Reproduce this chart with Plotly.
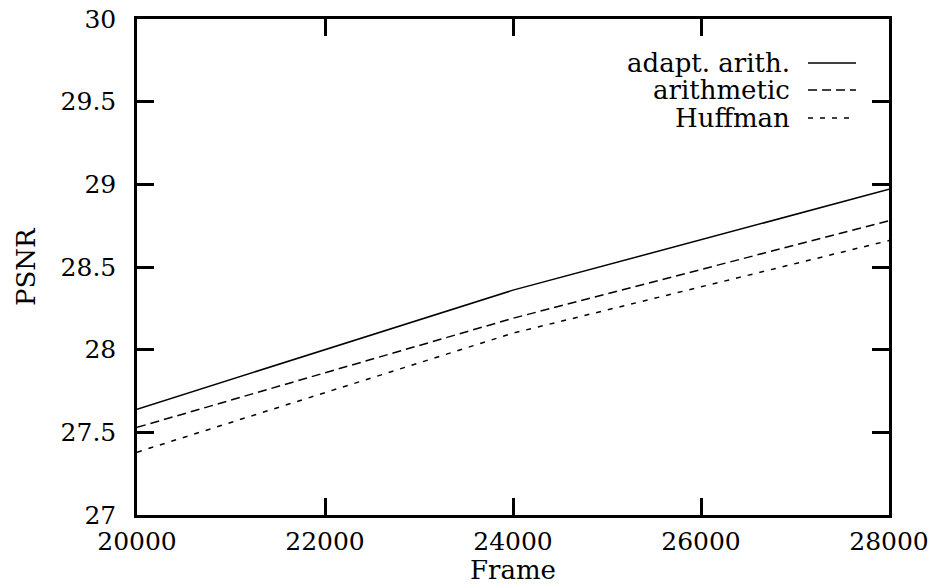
import plotly.graph_objects as go

# PSNR versus frame number for three entropy coders
frames = [20000, 24000, 28000]
adapt_arith = [27.64, 28.36, 28.97]
arithmetic = [27.53, 28.19, 28.78]
huffman = [27.38, 28.10, 28.66]

series_names = ["adapt. arith.", "arithmetic", "Huffman"]
series_values = [adapt_arith, arithmetic, huffman]
series_dash = ["solid", "9px,5px", "5px,7px"]

x_ticks = [20000, 22000, 24000, 26000, 28000]
y_ticks = [27, 27.5, 28, 28.5, 29, 29.5, 30]
y_tick_labels = ["27", "27.5", "28", "28.5", "29", "29.5", "30"]

FONT = "DejaVu Serif"
W, H = 933, 588
L, R, T, B = 137, 44, 19, 73

fig = go.Figure()
for name, vals, dash in zip(series_names, series_values, series_dash):
    fig.add_trace(go.Scatter(
        x=frames, y=vals, mode="lines", name=name,
        line=dict(color="black", width=1.5, dash=dash),
        showlegend=False,
    ))

axis_common = dict(
    showline=True, linecolor="black", linewidth=2.5, mirror="ticks",
    ticks="inside", ticklen=17, tickwidth=2.5, tickcolor="black",
    showgrid=False, zeroline=False, automargin=False,
    tickfont=dict(family=FONT, size=25, color="black"),
)

fig.update_xaxes(range=[20000, 28000], tickvals=x_ticks,
                 ticktext=[str(v) for v in x_ticks],
                 ticklabelstandoff=2, **axis_common)
fig.update_yaxes(range=[27, 30], tickvals=y_ticks, ticktext=y_tick_labels,
                 ticklabelstandoff=13, **axis_common)

# axis titles
pw = W - L - R
ph = H - T - B
fig.add_annotation(text="Frame", xref="paper", yref="paper",
                   x=0.5, y=-(570 - (H - B)) / ph, xanchor="center", yanchor="middle",
                   showarrow=False, font=dict(family=FONT, size=26, color="black"))
fig.add_annotation(text="PSNR", xref="paper", yref="paper",
                   x=-(L - 26) / pw, y=1 - (266 - T) / ph, xanchor="center", yanchor="middle",
                   textangle=-90, showarrow=False,
                   font=dict(family=FONT, size=26, color="black"))

# key: right-aligned labels followed by line samples
key_rows_y = [63, 90, 118]
text_right = 792
sample_x0, sample_x1 = 808, 856
for name, dash, ry in zip(series_names, series_dash, key_rows_y):
    yp = 1 - (ry - T) / ph
    fig.add_annotation(text=name, xref="paper", yref="paper",
                       x=(text_right - L) / pw, y=yp, xanchor="right", yanchor="middle",
                       showarrow=False, font=dict(family=FONT, size=26, color="black"))
    fig.add_shape(type="line", xref="paper", yref="paper",
                  x0=(sample_x0 - L) / pw, x1=(sample_x1 - L) / pw, y0=yp, y1=yp,
                  line=dict(color="black", width=1.5, dash=dash))

fig.update_layout(
    width=W, height=H,
    margin=dict(l=L, r=R, t=T, b=B),
    paper_bgcolor="white", plot_bgcolor="white",
    showlegend=False,
)

fig.write_html("out.html")
